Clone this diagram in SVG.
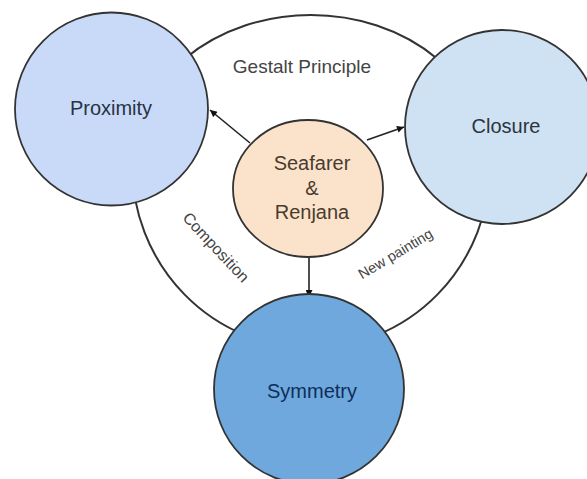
<svg xmlns="http://www.w3.org/2000/svg" width="587" height="479" viewBox="0 0 587 479">
<defs>
<marker id="arr" viewBox="0 0 10 10" refX="10" refY="5" markerWidth="9" markerHeight="7" markerUnits="userSpaceOnUse" orient="auto">
<path d="M0,0 L10,5 L0,10 Z" fill="#111"/>
</marker>
<style>
.node{stroke:#333;stroke-width:1.8}
.lbl{font-family:"Liberation Sans",Arial,sans-serif;font-size:20px;text-anchor:middle}
.edge{stroke:#222;stroke-width:1.6;fill:none;marker-end:url(#arr)}
.small{font-family:"Liberation Sans",Arial,sans-serif;fill:#444;text-anchor:middle}
</style>
</defs>
<rect width="587" height="479" fill="#ffffff"/>
<g id="ring">
<path d="M132,165 A179 150 0 0 1 490,165 A179 183 0 0 1 132,165 Z" fill="#ffffff" stroke="#333" stroke-width="2"/>
</g>
<g id="labels">
<text class="small" x="302" y="73" font-size="19">Gestalt Principle</text>
<text class="small" font-size="16" transform="translate(212,251) rotate(47)">Composition</text>
<text class="small" font-size="14.5" transform="translate(398,258) rotate(-31)">New painting</text>
</g>
<g id="connectors">
<line class="edge" x1="250" y1="143" x2="210" y2="110"/>
<line class="edge" x1="367" y1="140" x2="404" y2="127"/>
<line class="edge" x1="309" y1="257" x2="309" y2="297"/>
</g>
<g id="proximity">
<circle class="node" cx="111.5" cy="109" r="96.5" fill="#c9daf8"/>
<text class="lbl" x="111" y="115" fill="#283242">Proximity</text>
</g>
<g id="closure">
<circle class="node" cx="502" cy="127" r="97" fill="#cfe2f3"/>
<text class="lbl" x="506" y="133" fill="#2b3440">Closure</text>
</g>
<g id="symmetry">
<circle class="node" cx="309" cy="389" r="95" fill="#6fa8dc"/>
<text class="lbl" x="312" y="398" fill="#0e2f5a">Symmetry</text>
</g>
<g id="seafarer">
<ellipse class="node" cx="308" cy="188.5" rx="75" ry="68.5" fill="#fbe3cb"/>
<text class="lbl" x="312" y="170" fill="#4a3b2e">Seafarer</text>
<text class="lbl" x="312" y="195" fill="#4a3b2e">&amp;</text>
<text class="lbl" x="312" y="219" fill="#4a3b2e">Renjana</text>
</g>
</svg>
